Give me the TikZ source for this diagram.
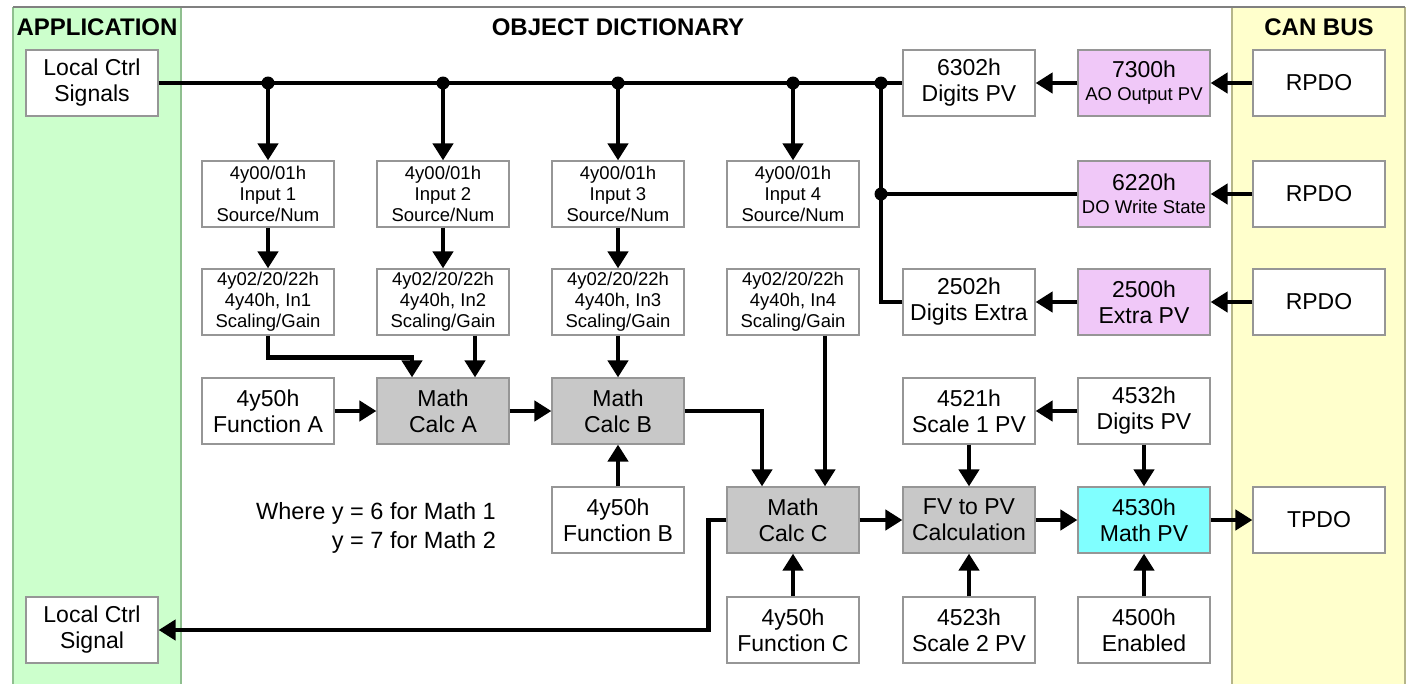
\documentclass[tikz,border=0pt]{standalone}
\usepackage{fontspec}
\setmainfont{Liberation Sans}
\usetikzlibrary{arrows.meta}
\definecolor{appgreen}{HTML}{CCFFCC}
\definecolor{appgreenline}{HTML}{8FBF8F}
\definecolor{canyellow}{HTML}{FFFFCC}
\definecolor{canyellowline}{HTML}{B5B58A}
\definecolor{boxline}{HTML}{969696}
\definecolor{calcgray}{HTML}{C8C8C8}
\definecolor{violetfill}{HTML}{F0C8F8}
\definecolor{cyanfill}{HTML}{80FFFF}
\newcommand{\smtxt}{\fontsize{18.5}{21}\selectfont}
\begin{document}
\begin{tikzpicture}[x=1pt,y=-1pt,
  box/.style={draw=boxline, line width=1.2pt, fill=white, minimum width=132pt, minimum height=66pt, inner sep=0pt, align=center, font=\fontsize{23}{26}\selectfont},
  smallbox/.style={box, font=\smtxt},
  calc/.style={box, fill=calcgray},
  objv/.style={box, fill=violetfill},
  pvbox/.style={box, fill=cyanfill},
  conn/.style={line width=4.5pt},
  arr/.style={conn, -{Triangle[length=17pt,width=20pt]}},
  dot/.style={circle, fill=black, inner sep=0pt, minimum size=13pt},
  title/.style={font=\bfseries\fontsize{24}{28}\selectfont}
]
\useasboundingbox (0,0) rectangle (1413,683);
\fill[white] (0,0) rectangle (1413,683);
% panels
\fill[appgreen] (13,7) rectangle (181,690);
\draw[appgreenline, line width=1.2pt] (13,7) -- (13,690) (181,7) -- (181,690);
\fill[canyellow] (1232,7) rectangle (1405,690);
\draw[canyellowline, line width=1.2pt] (1232,7) -- (1232,690) (1405,7) -- (1405,690);
\draw[gray, line width=1.2pt] (13,7) -- (1405,7);
% titles
\node[title] (tapp) at (97,27) {APPLICATION};
\node[title] (tobj) at (618,27) {OBJECT DICTIONARY};
\node[title] (tcan) at (1319,27) {CAN BUS};
% row 1
\node[box] (lcs) at (92,83) {Local Ctrl\\Signals};
\node[box] (d6302) at (969,83) {6302h\\Digits PV};
\node[objv] (d7300) at (1144,83) {7300h\\[-3pt]\smtxt AO Output PV};
\node[box] (rp1) at (1319,83) {RPDO};
% row 2
\node[smallbox] (in1) at (268,194) {4y00/01h\\Input 1\\Source/Num};
\node[smallbox] (in2) at (443,194) {4y00/01h\\Input 2\\Source/Num};
\node[smallbox] (in3) at (618,194) {4y00/01h\\Input 3\\Source/Num};
\node[smallbox] (in4) at (793,194) {4y00/01h\\Input 4\\Source/Num};
\node[objv] (d6220) at (1144,194) {6220h\\[-3pt]\smtxt DO Write State};
\node[box] (rp2) at (1319,194) {RPDO};
% row 3
\node[smallbox] (sc1) at (268,302) {4y02/20/22h\\4y40h, In1\\Scaling/Gain};
\node[smallbox] (sc2) at (443,302) {4y02/20/22h\\4y40h, In2\\Scaling/Gain};
\node[smallbox] (sc3) at (618,302) {4y02/20/22h\\4y40h, In3\\Scaling/Gain};
\node[smallbox] (sc4) at (793,302) {4y02/20/22h\\4y40h, In4\\Scaling/Gain};
\node[box] (d2502) at (969,302) {2502h\\Digits Extra};
\node[objv] (d2500) at (1144,302) {2500h\\Extra PV};
\node[box] (rp3) at (1319,302) {RPDO};
% row 4
\node[box] (fA) at (268,411) {4y50h\\Function A};
\node[calc] (mA) at (443,411) {Math\\Calc A};
\node[calc] (mB) at (618,411) {Math\\Calc B};
\node[box] (d4521) at (969,411) {4521h\\Scale 1 PV};
\node[box] (d4532) at (1144,411) {4532h\\Digits PV};
% row 5
\node[box] (fB) at (618,520) {4y50h\\Function B};
\node[calc] (mC) at (793,520) {Math\\Calc C};
\node[calc] (fv) at (969,520) {FV to PV\\Calculation};
\node[pvbox] (d4530) at (1144,520) {4530h\\Math PV};
\node[box] (tpdo) at (1319,520) {TPDO};
% row 6
\node[box] (lcs2) at (92,630) {Local Ctrl\\Signal};
\node[box] (fC) at (793,630) {4y50h\\Function C};
\node[box] (d4523) at (969,630) {4523h\\Scale 2 PV};
\node[box] (d4500) at (1144,630) {4500h\\Enabled};
% note
\node[align=right, font=\fontsize{23.5}{29}\selectfont] (note) at (376,528) {Where y = 6 for Math 1\\y = 7 for Math 2};
% junctions
\coordinate (j1) at (268,83);
\coordinate (j2) at (443,83);
\coordinate (j3) at (618,83);
\coordinate (j4) at (793,83);
\coordinate (j5) at (881,83);
\coordinate (j6) at (881,194);
% bus
\draw[conn] (lcs.east) -- (d6302.west);
\draw[arr] (j1) -- (in1.north);
\draw[arr] (j2) -- (in2.north);
\draw[arr] (j3) -- (in3.north);
\draw[arr] (j4) -- (in4.north);
\draw[conn] (d2502.west) -| (j5);
\draw[conn] (d6220.west) -- (j6);
% right side inputs
\draw[arr] (rp1.west) -- (d7300.east);
\draw[arr] (d7300.west) -- (d6302.east);
\draw[arr] (rp2.west) -- (d6220.east);
\draw[arr] (rp3.west) -- (d2500.east);
\draw[arr] (d2500.west) -- (d2502.east);
% inputs to scaling
\draw[arr] (in1.south) -- (sc1.north);
\draw[arr] (in2.south) -- (sc2.north);
\draw[arr] (in3.south) -- (sc3.north);
% scaling to math
\draw[arr] (sc1.south) -- ++(0,22) -| ([xshift=-31pt]mA.north);
\draw[arr] ([xshift=32pt]sc2.south) -- ([xshift=32pt]mA.north);
\draw[arr] (sc3.south) -- (mB.north);
\draw[arr] (mB.east) -| ([xshift=-31pt]mC.north);
\draw[arr] ([xshift=32pt]sc4.south) -- ([xshift=32pt]mC.north);
% horizontal chain
\draw[arr] (fA.east) -- (mA.west);
\draw[arr] (mA.east) -- (mB.west);
\draw[arr] (fB.north) -- (mB.south);
\draw[arr] (mC.east) -- (fv.west);
\draw[arr] (fv.east) -- (d4530.west);
\draw[arr] (d4530.east) -- (tpdo.west);
\draw[arr] (fC.north) -- (mC.south);
\draw[arr] (d4523.north) -- (fv.south);
\draw[arr] (d4500.north) -- (d4530.south);
\draw[arr] (d4521.south) -- (fv.north);
\draw[arr] (d4532.south) -- (d4530.north);
\draw[arr] (d4532.west) -- (d4521.east);
\draw[arr] (mC.west) -- ++(-18,0) |- (lcs2.east);
% junction dots
\foreach \j in {j1,j2,j3,j4,j5,j6} \node[dot] at (\j) {};
\end{tikzpicture}
\end{document}
